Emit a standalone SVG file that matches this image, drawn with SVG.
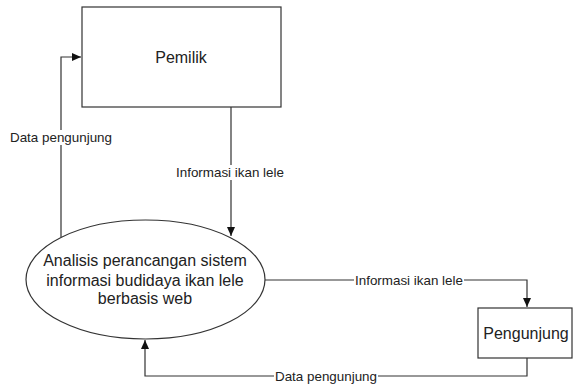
<svg xmlns="http://www.w3.org/2000/svg" width="574" height="387" viewBox="0 0 574 387">
<style>
.box{fill:#fff;stroke:#333;stroke-width:1.2}
.ln{fill:none;stroke:#333;stroke-width:1.2}
.t{font-family:"Liberation Sans",Arial,sans-serif;fill:#222;text-anchor:middle}
.lb{font-family:"Liberation Sans",Arial,sans-serif;fill:#222;font-size:13.4px;text-anchor:middle}
.bg{fill:#fff}
</style>
<defs>
<marker id="ah" markerWidth="10" markerHeight="10" refX="9" refY="5" orient="auto" markerUnits="userSpaceOnUse">
<path d="M0,1 L9,5 L0,9 Z" fill="#111"/>
</marker>
</defs>
<rect width="574" height="387" fill="#fff"/>
<g id="connectors">
<path class="ln" d="M61,237 V57 H81" marker-end="url(#ah)"/>
<path class="ln" d="M231,107 V165 M231,180 V236" marker-end="url(#ah)"/>
<path class="ln" d="M265,280 H527 V307" marker-end="url(#ah)"/>
<path class="ln" d="M527,358 V376 H145 V340" marker-end="url(#ah)"/>
<rect class="bg" x="8" y="130" width="106" height="15"/>
<text class="lb" x="61" y="142">Data pengunjung</text>
<rect class="bg" x="174" y="165" width="113" height="15"/>
<text class="lb" x="230" y="177">Informasi ikan lele</text>
<rect class="bg" x="354" y="275" width="110" height="10"/>
<text class="lb" x="409" y="285">Informasi ikan lele</text>
<rect class="bg" x="274" y="371" width="104" height="10"/>
<text class="lb" x="326" y="381">Data pengunjung</text>
</g>
<g id="pemilik">
<rect class="box" x="82" y="7" width="199" height="100"/>
<text class="t" x="181" y="63" font-size="16">Pemilik</text>
</g>
<g id="proses">
<ellipse class="box" cx="145.5" cy="279.5" rx="119.5" ry="59.5"/>
<text class="t" x="145" y="265.5" font-size="16">Analisis perancangan sistem</text>
<text class="t" x="145" y="285.5" font-size="16">informasi budidaya ikan lele</text>
<text class="t" x="145" y="304" font-size="16">berbasis web</text>
</g>
<g id="pengunjung">
<rect class="box" x="478" y="308" width="94" height="50"/>
<text class="t" x="526" y="339" font-size="16">Pengunjung</text>
</g>
</svg>
